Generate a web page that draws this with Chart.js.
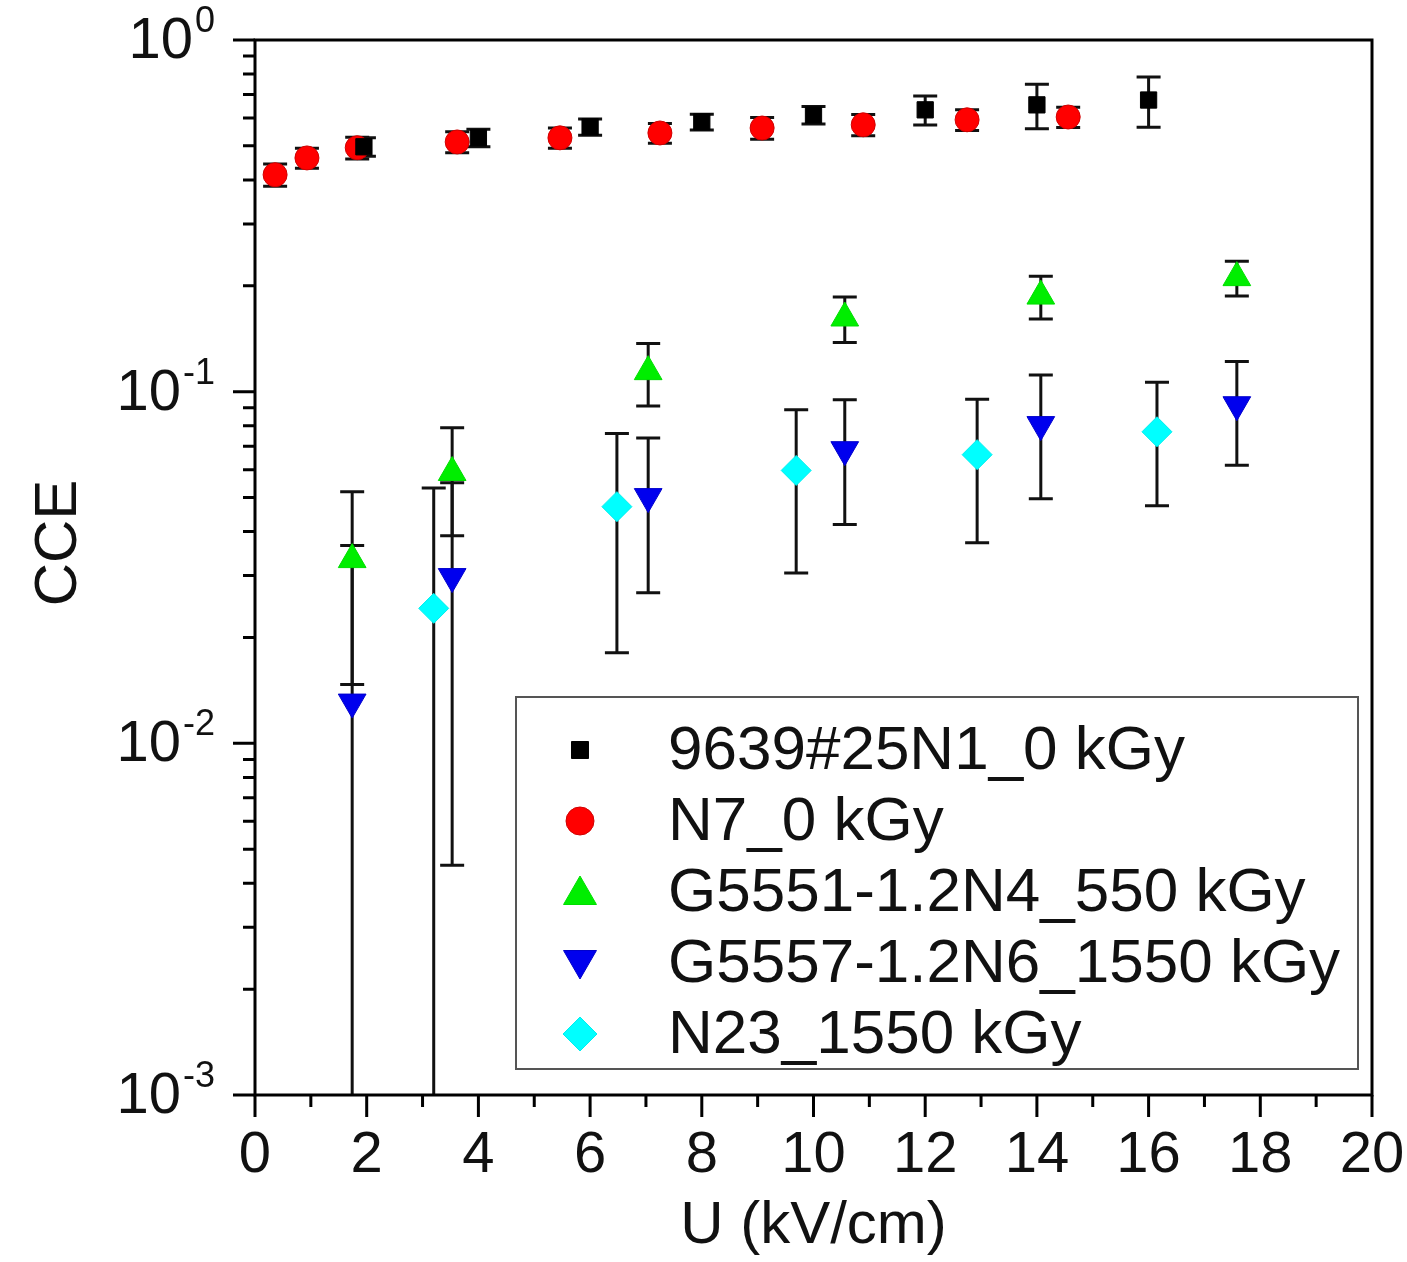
<!DOCTYPE html>
<html>
<head>
<meta charset="utf-8">
<script src="https://cdn.jsdelivr.net/npm/chart.js@4.4.1/dist/chart.umd.min.js"></script>
<style>
    html, body { margin: 0; padding: 0; background: #fff; }
</style>
</head>
<body>
<canvas id="cceChart" width="1407" height="1262"></canvas>
<script>
// Series data (x in kV/cm, y = CCE, err = symmetric error)
const seriesNames = [
    '9639#25N1_0 kGy',
    'N7_0 kGy',
    'G5551-1.2N4_550 kGy',
    'G5557-1.2N6_1550 kGy',
    'N23_1550 kGy'
];

const n1X = [1.95, 4, 6, 8, 10, 12, 14, 16];
const n1Y = [0.497, 0.527, 0.566, 0.585, 0.612, 0.633, 0.654, 0.675];
const n1Err = [0.03, 0.03, 0.03, 0.03, 0.035, 0.06, 0.095, 0.11];

const n7X = [0.36, 0.93, 1.83, 3.62, 5.46, 7.25, 9.08, 10.89, 12.75, 14.56];
const n7Y = [0.414, 0.462, 0.494, 0.513, 0.527, 0.544, 0.562, 0.574, 0.593, 0.604];
const n7Err = [0.03, 0.03, 0.035, 0.035, 0.035, 0.035, 0.04, 0.04, 0.04, 0.04];

const g5551X = [1.74, 3.53, 7.04, 10.56, 14.07, 17.58];
const g5551Y = [0.0333, 0.0589, 0.114, 0.162, 0.187, 0.211];
const g5551Err = [0.0186, 0.020, 0.023, 0.024, 0.026, 0.024];

const g5557X = [1.74, 3.53, 7.04, 10.56, 14.07, 17.58];
const g5557Y = [0.0131, 0.0298, 0.0503, 0.0684, 0.0806, 0.0918];
const g5557Err = [0.0234, 0.0253, 0.0235, 0.0265, 0.031, 0.030];

const n23X = [3.2, 6.48, 9.69, 12.93, 16.15];
const n23Y = [0.0242, 0.0471, 0.0597, 0.0662, 0.0769];
const n23Err = [0.029, 0.029, 0.0292, 0.029, 0.0295];

const xTicks = [0, 2, 4, 6, 8, 10, 12, 14, 16, 18, 20];
const yDecades = [-3, -2, -1, 0];

const errorSets = [n1Err, n7Err, g5551Err, g5557Err, n23Err];

function toPoints(xs, ys) {
    return xs.map((x, i) => ({ x: x, y: ys[i] }));
}

const fontFamily = "'Liberation Sans', Arial, sans-serif";

// Error bars drawn under the markers
const errorBars = {
    id: 'errorBars',
    beforeDatasetsDraw(chart) {
        const { ctx, chartArea, scales } = chart;
        const cap = 12;
        ctx.save();
        ctx.beginPath();
        ctx.rect(chartArea.left, chartArea.top, chartArea.right - chartArea.left, chartArea.bottom - chartArea.top);
        ctx.clip();
        ctx.strokeStyle = '#111';
        ctx.lineWidth = 3;
        chart.data.datasets.forEach((ds, di) => {
            const errs = errorSets[di];
            ds.data.forEach((p, i) => {
                const px = scales.x.getPixelForValue(p.x);
                const hi = scales.y.getPixelForValue(p.y + errs[i]);
                const lowVal = p.y - errs[i];
                const lo = lowVal > 0 ? scales.y.getPixelForValue(lowVal) : chartArea.bottom + 5;
                ctx.beginPath();
                ctx.moveTo(px, hi);
                ctx.lineTo(px, lo);
                ctx.moveTo(px - cap, hi);
                ctx.lineTo(px + cap, hi);
                if (lowVal > 0) {
                    ctx.moveTo(px - cap, lo);
                    ctx.lineTo(px + cap, lo);
                }
                ctx.stroke();
            });
        });
        ctx.restore();
    }
};

// Frame, tick marks, log labels, y title and the in-plot legend
const axesAndLegend = {
    id: 'axesAndLegend',
    afterDraw(chart) {
        const { ctx, chartArea, scales } = chart;
        const xs = scales.x, ys = scales.y;
        ctx.save();
        ctx.strokeStyle = '#000';
        ctx.lineWidth = 3;
        ctx.strokeRect(chartArea.left, chartArea.top, chartArea.right - chartArea.left, chartArea.bottom - chartArea.top);

        // x ticks (major every 2, minor every 1)
        ctx.beginPath();
        for (let v = 0; v <= 20; v++) {
            const px = xs.getPixelForValue(v);
            const len = v % 2 === 0 ? 22 : 12;
            ctx.moveTo(px, chartArea.bottom);
            ctx.lineTo(px, chartArea.bottom + len);
        }
        // y ticks (decades + minors)
        yDecades.forEach(d => {
            const base = Math.pow(10, d);
            const py = ys.getPixelForValue(base);
            ctx.moveTo(chartArea.left, py);
            ctx.lineTo(chartArea.left - 22, py);
            if (d < 0) {
                for (let k = 2; k <= 9; k++) {
                    const pm = ys.getPixelForValue(k * base);
                    ctx.moveTo(chartArea.left, pm);
                    ctx.lineTo(chartArea.left - 12, pm);
                }
            }
        });
        ctx.stroke();

        // y tick labels 10^n
        ctx.fillStyle = '#111';
        ctx.textBaseline = 'middle';
        yDecades.forEach(d => {
            const py = ys.getPixelForValue(Math.pow(10, d));
            const exp = String(d);
            ctx.font = '36px ' + fontFamily;
            const ew = ctx.measureText(exp).width;
            const right = 215;
            ctx.textAlign = 'right';
            ctx.fillText(exp, right, py - 18);
            ctx.font = '58px ' + fontFamily;
            ctx.fillText('10', right - ew - 2, py + 2);
        });

        // y title
        ctx.save();
        ctx.translate(57, 543);
        ctx.rotate(-Math.PI / 2);
        ctx.textAlign = 'center';
        ctx.font = '60px ' + fontFamily;
        ctx.fillText('CCE', 0, 2);
        ctx.restore();

        // legend box
        const lx = 516, ly = 697, lw = 842, lh = 372;
        ctx.lineWidth = 2;
        ctx.strokeStyle = '#555';
        ctx.strokeRect(lx, ly, lw, lh);
        const legendRadius = [12, 14, 19, 19, 17];
        chart.data.datasets.forEach((ds, i) => {
            const cy = 750 + i * 71;
            ctx.fillStyle = ds.backgroundColor;
            ctx.strokeStyle = ds.borderColor;
            ctx.lineWidth = 1;
            Chart.helpers.drawPoint(ctx, {
                pointStyle: ds.pointStyle,
                radius: legendRadius[i],
                rotation: ds.pointRotation || 0,
                borderWidth: 1
            }, 580, cy + (ds.pointStyle === 'triangle' ? (ds.pointRotation ? -3 : 3) : 0));
            ctx.fillStyle = '#111';
            ctx.textAlign = 'left';
            ctx.textBaseline = 'middle';
            ctx.font = '62px ' + fontFamily;
            ctx.fillText(ds.label, 668, cy + 2);
        });
        ctx.restore();
    }
};

const datasets = [
    {
        label: seriesNames[0],
        data: toPoints(n1X, n1Y),
        pointStyle: 'rect',
        pointRadius: 11.5,
        backgroundColor: '#000000',
        borderColor: '#000000'
    },
    {
        label: seriesNames[1],
        data: toPoints(n7X, n7Y),
        pointStyle: 'circle',
        pointRadius: 12,
        backgroundColor: '#ff0000',
        borderColor: '#d00000'
    },
    {
        label: seriesNames[2],
        data: toPoints(g5551X, g5551Y),
        pointStyle: 'triangle',
        pointRadius: 16,
        backgroundColor: '#00ee00',
        borderColor: '#00dd00'
    },
    {
        label: seriesNames[3],
        data: toPoints(g5557X, g5557Y),
        pointStyle: 'triangle',
        pointRotation: 180,
        pointRadius: 16,
        backgroundColor: '#0000ee',
        borderColor: '#0000cc'
    },
    {
        label: seriesNames[4],
        data: toPoints(n23X, n23Y),
        pointStyle: 'rectRot',
        pointRadius: 15,
        backgroundColor: '#00ffff',
        borderColor: '#00eeee'
    }
];

const cceChart = new Chart(document.getElementById('cceChart'), {
    type: 'scatter',
    data: { datasets: datasets },
    plugins: [errorBars, axesAndLegend],
    options: {
        responsive: false,
        devicePixelRatio: 1,
        animation: false,
        layout: { padding: { top: 40, right: 35, left: 0, bottom: 0 } },
        elements: { point: { borderWidth: 1 } },
        plugins: {
            legend: { display: false },
            tooltip: { enabled: false }
        },
        scales: {
            x: {
                type: 'linear',
                min: 0,
                max: 20,
                afterFit: scale => {
                    scale.height = 167;
                    scale.paddingLeft = 0;
                    scale.paddingRight = 0;
                },
                afterBuildTicks: scale => { scale.ticks = xTicks.map(v => ({ value: v })); },
                grid: { display: false, drawTicks: false },
                border: { display: false },
                ticks: {
                    padding: 26,
                    maxRotation: 0,
                    color: '#111',
                    font: { family: fontFamily, size: 58 }
                },
                title: {
                    display: true,
                    text: 'U (kV/cm)',
                    color: '#111',
                    padding: { top: 0, bottom: 0 },
                    font: { family: fontFamily, size: 60 }
                }
            },
            y: {
                type: 'logarithmic',
                min: 0.001,
                max: 1,
                afterFit: scale => {
                    scale.width = 255;
                    scale.paddingTop = 0;
                    scale.paddingBottom = 0;
                },
                grid: { display: false, drawTicks: false },
                border: { display: false },
                ticks: { callback: () => '' }
            }
        }
    }
});
</script>
</body>
</html>
